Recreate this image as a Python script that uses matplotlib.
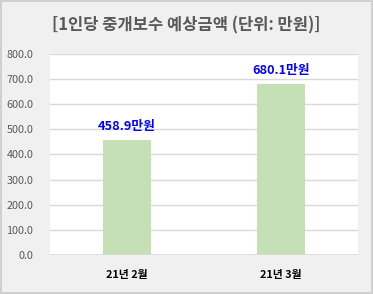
import matplotlib
matplotlib.use("Agg")
import matplotlib.pyplot as plt

plt.rcParams['font.family'] = ['Noto Sans CJK KR', 'DejaVu Sans']

# data
categories = ['21년 2월', '21년 3월']
values = [458.9, 680.1]
yticks = [0, 100, 200, 300, 400, 500, 600, 700, 800]

fig = plt.figure(figsize=(3.73, 2.94), dpi=100)
fig.patch.set_facecolor('#F0F0F0')
fig.patch.set_edgecolor('#D0D0D0')
fig.patch.set_linewidth(1.5)

ax = fig.add_axes([0.134, 0.133, 0.826, 0.683])
ax.set_facecolor('white')

x = range(len(categories))
bars = ax.bar(x, values, width=0.31, color='#C5E0B4', zorder=3)

for b, v in zip(bars, values):
    ax.text(b.get_x() + b.get_width() / 2, v + 28, f'{v:.1f}만원',
            ha='center', va='bottom', color='#0000FF',
            fontsize=9.2, fontweight='bold')

ax.set_xlim(-0.5, 1.5)
ax.set_ylim(0, 800)
ax.set_yticks(yticks)
ax.set_yticklabels([f'{t:.1f}' for t in yticks], color='#595959', fontsize=7.8)
ax.set_xticks(list(x))
ax.set_xticklabels(categories, fontsize=7.8, fontweight='bold', color='black')
ax.tick_params(axis='both', length=0)
ax.tick_params(axis='y', pad=12)
ax.tick_params(axis='x', pad=11)
ax.grid(axis='y', color='#D9D9D9', linewidth=1, zorder=0)
for s in ax.spines.values():
    s.set_visible(False)
ax.axhline(0, color='#D9D9D9', linewidth=1.2, zorder=4)

fig.text(0.5, 0.915, '[1인당 중개보수 예상금액 (단위: 만원)]', ha='center', va='center',
         fontsize=11.9, fontweight='bold', color='#595959')

fig.savefig('out.png', dpi=100, facecolor=fig.get_facecolor(),
            edgecolor=fig.get_edgecolor())
